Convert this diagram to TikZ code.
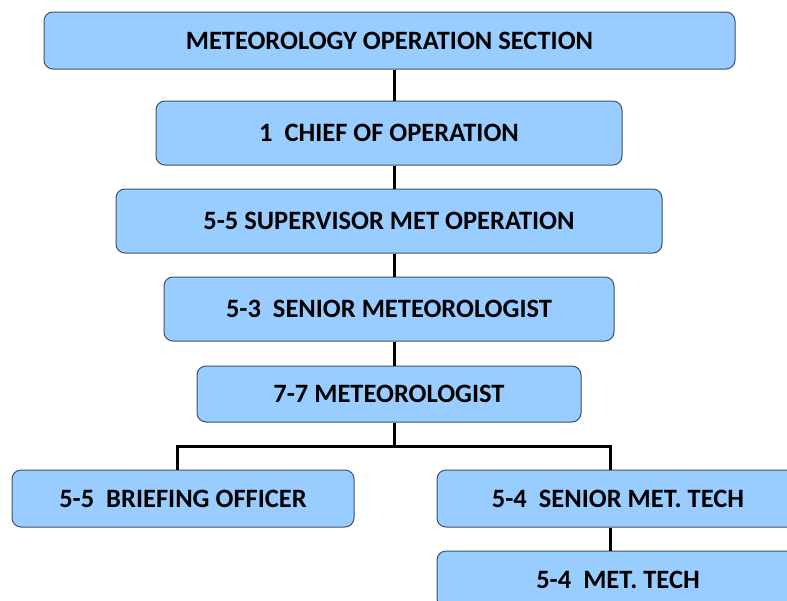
\documentclass[tikz,border=0pt]{standalone}
\usepackage{fontspec}
\setmainfont{Carlito}
\definecolor{boxblue}{HTML}{99CCFF}
\definecolor{boxline}{HTML}{3F5266}
\tikzset{
    post/.style={draw=boxline, fill=boxblue, rounded corners=9pt, line width=1pt,
        font=\bfseries\fontsize{26.5}{30}\selectfont, inner sep=0pt},
    link/.style={line width=3pt}
}
\begin{document}
\begin{tikzpicture}[x=1pt, y=-1pt]
    \clip (0,0) rectangle (787,600);
    \fill[white] (0,0) rectangle (787,600);
    \node[post, minimum width=691pt, minimum height=57pt] (sect)   at (389.5,40.5) {METEOROLOGY OPERATION SECTION};
    \node[post, minimum width=466pt, minimum height=64pt] (chief)  at (389,133)   {1\ \ CHIEF OF OPERATION};
    \node[post, minimum width=546pt, minimum height=64pt] (super)  at (389,221)   {5-5 SUPERVISOR MET OPERATION};
    \node[post, minimum width=450pt, minimum height=64pt] (senior) at (389,309)   {5-3\ \ SENIOR METEOROLOGIST};
    \node[post, minimum width=384pt, minimum height=56pt] (met)    at (389,394)   {7-7 METEOROLOGIST};
    \node[post, minimum width=342pt, minimum height=57pt] (brief)  at (183,498.5) {5-5\ \ BRIEFING OFFICER};
    \node[post, minimum width=362pt, minimum height=57pt] (stech)  at (618,498.5) {5-4\ \ SENIOR MET. TECH};
    \node[post, minimum width=362pt, minimum height=57pt] (tech)   at (618,579.5) {5-4\ \ MET. TECH};

    % chain down the middle
    \draw[link] (sect.south -| 394,0)   -- (chief.north -| 394,0);
    \draw[link] (chief.south -| 394,0)  -- (super.north -| 394,0);
    \draw[link] (super.south -| 394,0)  -- (senior.north -| 394,0);
    \draw[link] (senior.south -| 394,0) -- (met.north -| 394,0);
    % split to the two branches
    \coordinate (fork) at (394,446);
    \draw[link] (met.south -| fork) -- (fork);
    \draw[link] (brief.north -| 177,0) |- (fork) -| (stech.north -| 610,0);
    \draw[link] (stech.south -| 610,0) -- (tech.north -| 610,0);
\end{tikzpicture}
\end{document}
